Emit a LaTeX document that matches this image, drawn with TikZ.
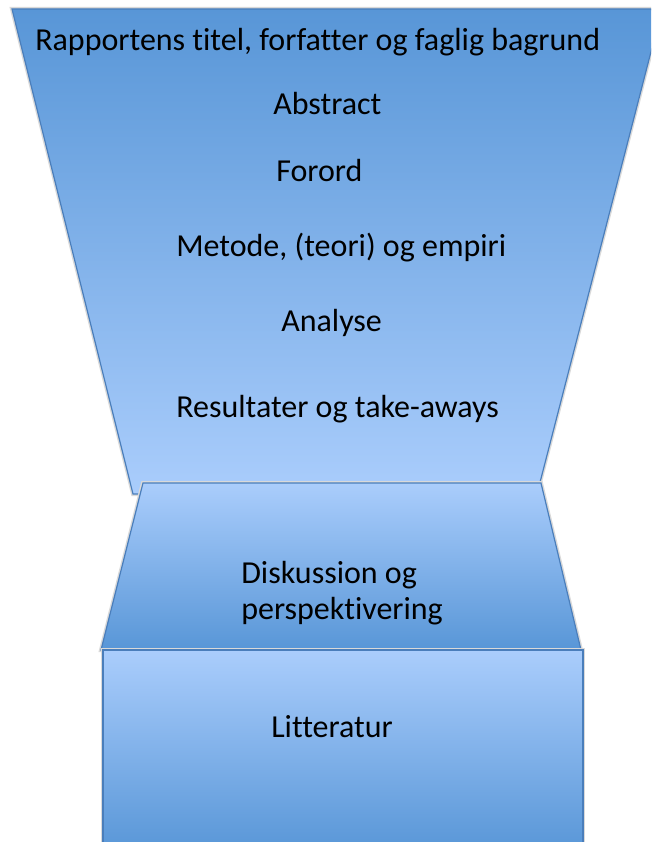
\documentclass[tikz,border=0pt]{standalone}
\usepackage{fontspec}
\setmainfont{Carlito}[RawFeature={-liga}]
\usetikzlibrary{
  positioning,
}
\definecolor{darkblue}{RGB}{88,150,215}
\definecolor{lightblue}{RGB}{170,205,252}
\definecolor{edgeblue}{RGB}{74,126,187}
\tikzstyle{funnel} = [
draw=edgeblue,
line width=0.9pt,
line join=miter
]
\tikzstyle{glow} = [
draw=black!15,
line width=3pt
]
\tikzstyle{entry} = [
inner sep=0pt,
anchor=west,
align=left
]

\begin{document}
\begin{tikzpicture}[x=0.75pt, y=-0.75pt, font=\fontsize{24}{27}\selectfont]
  \useasboundingbox (0,0) rectangle (651,842);
  \clip (0,0) rectangle (651,842);
  % Draw shapes
  \path [glow] (12,9) -- (662,9) -- (537,494) -- (133,494) -- cycle;
  \path [funnel, top color=darkblue, bottom color=lightblue]
    (12,9) -- (662,9) -- (537,494) -- (133,494) -- cycle;
  \path [glow] (143,483) -- (541,483) -- (581,650) -- (101,650) -- cycle;
  \path [funnel, top color=lightblue, bottom color=darkblue]
    (143,483) -- (541,483) -- (581,650) -- (101,650) -- cycle;
  \path [glow] (103,650) rectangle (583,852);
  \path [funnel, top color=lightblue, bottom color=darkblue]
    (103,650) rectangle (583,852);

  % Place nodes
  \node [entry] (title) at (35,42) {Rapportens titel, forfatter og faglig bagrund};
  \node [entry] (abstract) at (273,104) {Abstract};
  \node [entry] (forord) at (276,170) {Forord};
  \node [entry] (metode) at (176,248) {Metode, (teori) og empiri};
  \node [entry] (analyse) at (281,323) {Analyse};
  \node [entry] (resultater) at (176,409) {Resultater og take-aways};
  \node [entry] (diskussion) at (241,593) {Diskussion og\\perspektivering};
  \node [entry] (litteratur) at (271,727) {Litteratur};
\end{tikzpicture}
\end{document}
